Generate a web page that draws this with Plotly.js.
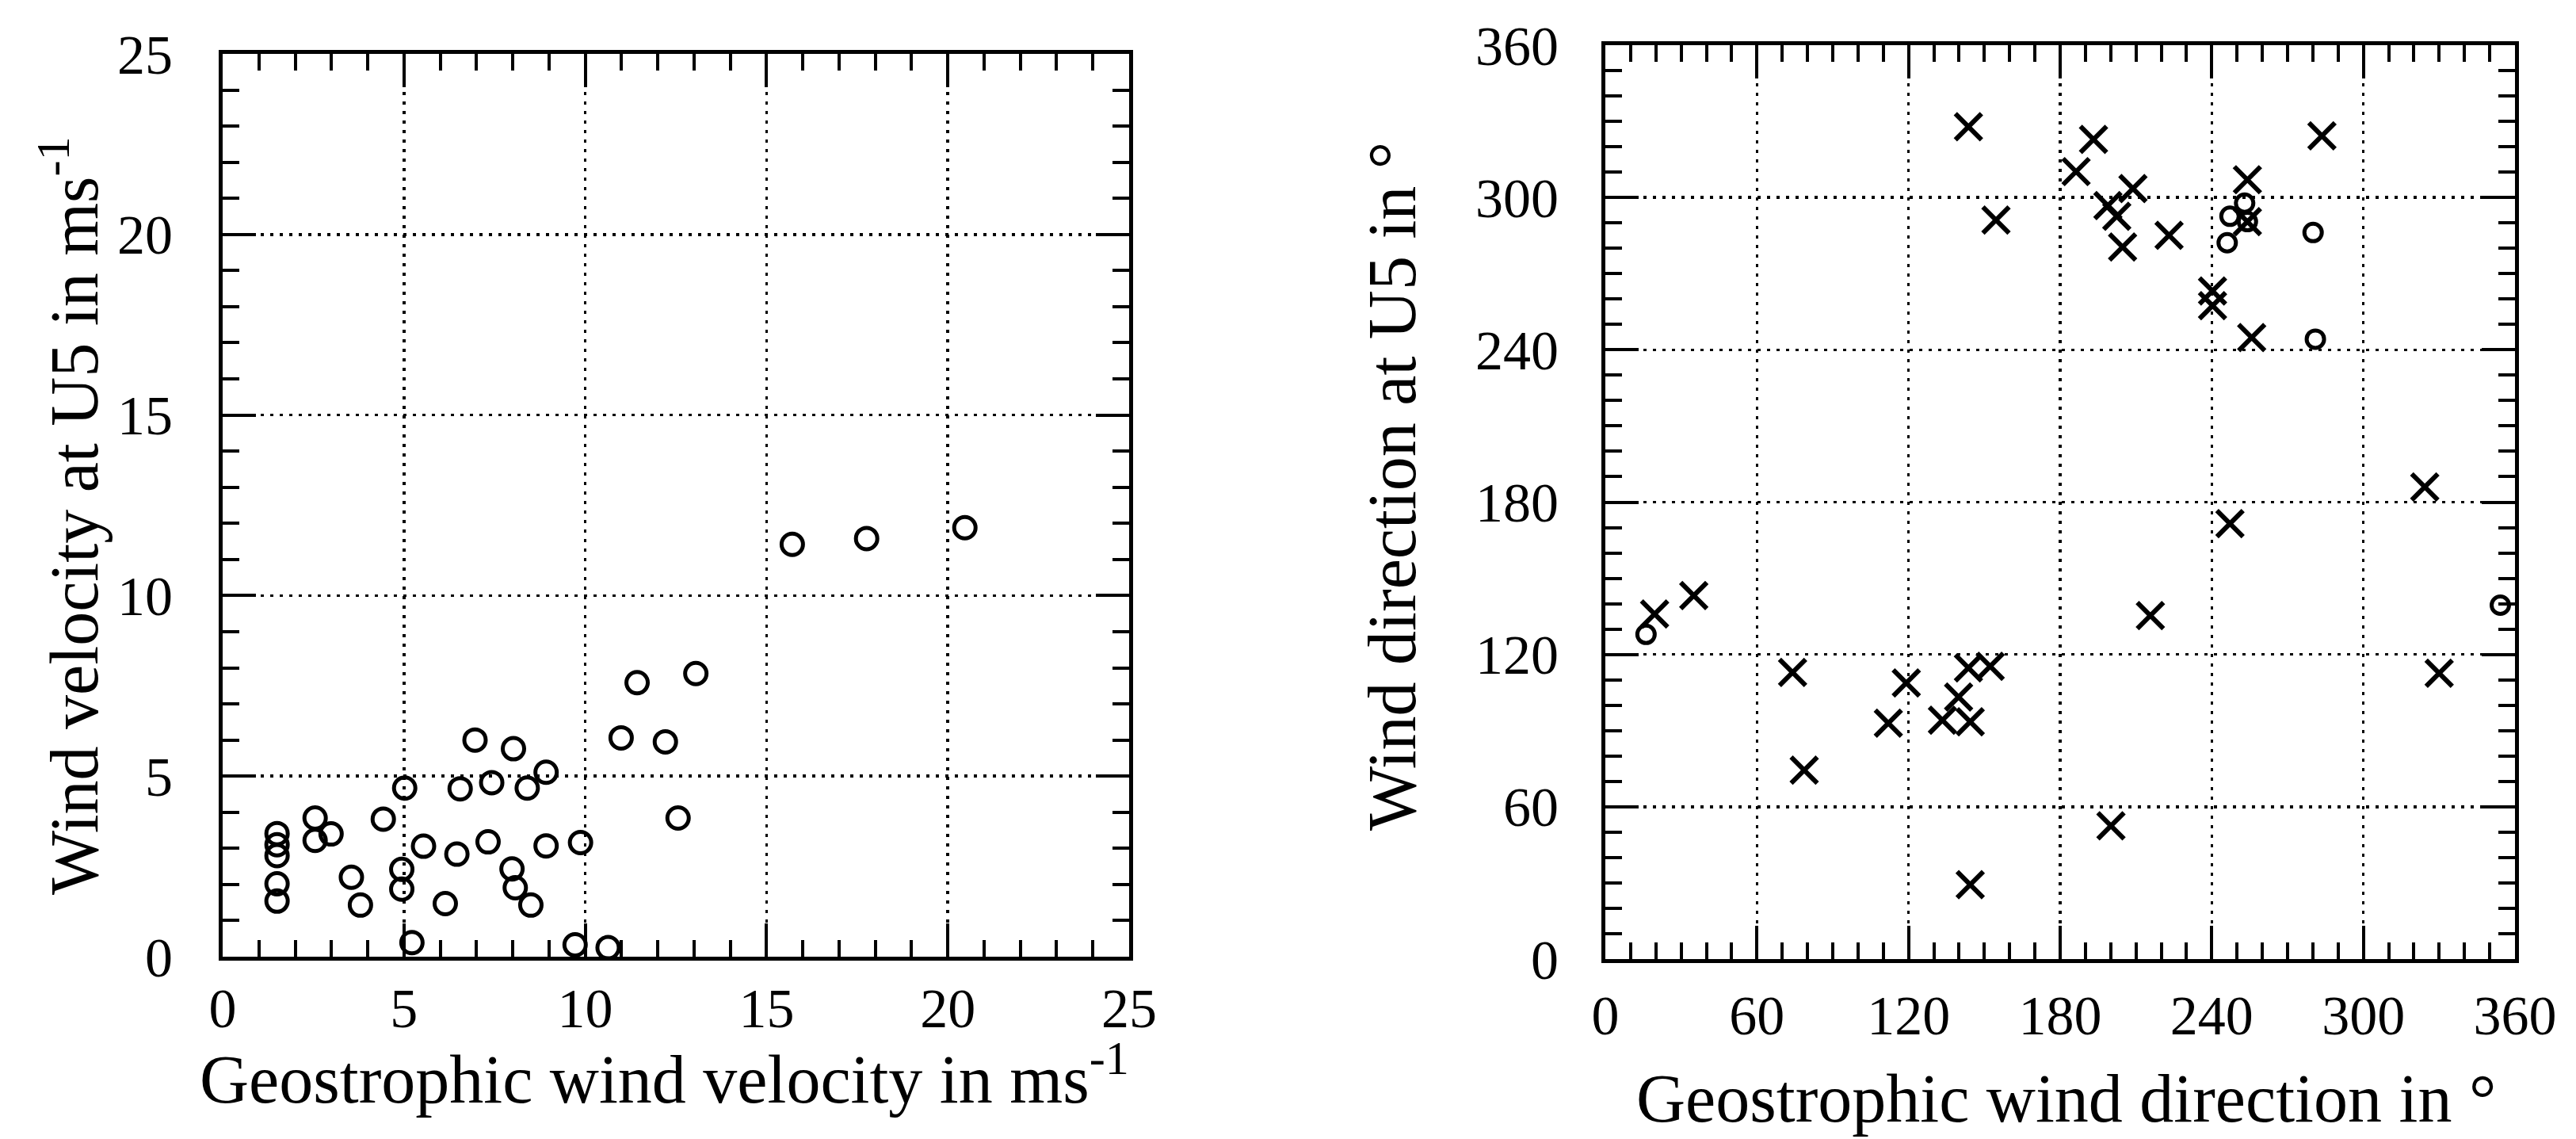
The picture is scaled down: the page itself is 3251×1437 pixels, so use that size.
<!DOCTYPE html>
<html>
<head>
<meta charset="utf-8">
<script src="https://cdn.plot.ly/plotly-3.0.1.min.js"></script>
<style>html,body{margin:0;padding:0;background:#fff;}</style>
</head>
<body>
<div id="chart" style="width:3251px;height:1437px;"></div>
<script>
// Wind speed: geostrophic wind vs. wind measured at U5 (m/s)
const speedGeo = [1.5, 1.5, 1.5, 1.5, 1.5, 2.55, 2.55, 2.99, 3.55, 3.80, 4.43, 5.02, 4.94, 4.94, 5.22,
  5.54, 6.14, 6.46, 6.55, 6.96, 7.32, 7.42, 7.98, 8.02, 8.07, 8.40, 8.50, 8.92, 8.92, 9.87, 9.72,
  10.63, 10.99, 11.43, 12.21, 12.56, 13.05, 15.71, 17.76, 20.47];
const speedU5 = [3.41, 3.10, 2.80, 2.02, 1.54, 3.84, 3.22, 3.40, 2.20, 1.43, 3.81, 4.67, 2.42, 1.87, 0.39,
  3.06, 1.47, 2.84, 4.65, 6.00, 3.18, 4.82, 2.43, 5.76, 1.91, 4.67, 1.43, 5.11, 3.07, 3.16, 0.33,
  0.25, 6.06, 7.59, 5.95, 3.84, 7.84, 11.42, 11.58, 11.88];

// Wind direction (degrees), two groups of cases
const dirGeoCross = [143.7, 193.2, 186.3, 208.8, 198.9, 202.4, 154.6, 223.1, 204.7, 254.1, 254.1, 283.6,
  240.3, 240.3, 255.8, 324.3, 19.5, 35.0, 247.2, 215.7, 74.1, 119.1, 143.7, 152.3, 139.8, 112.0,
  133.4, 144.4, 78.7, 330.0, 200.1, 144.4];
const dirU5Cross = [327.9, 322.9, 310.2, 303.5, 296.8, 292.6, 291.1, 285.1, 280.5, 307.0, 290.5, 324.3,
  263.2, 257.4, 244.8, 186.0, 135.9, 143.2, 171.5, 135.3, 112.9, 108.8, 114.7, 115.3, 103.2, 92.9,
  94.1, 93.5, 74.4, 112.6, 52.5, 29.3];
const dirGeoCircle = [16.1, 253.0, 247.2, 246.1, 254.1, 280.1, 281.0, 354.2];
const dirU5Circle = [127.9, 297.8, 292.6, 282.2, 290.5, 286.2, 244.2, 139.4];

const speedTicks = [0, 5, 10, 15, 20, 25];
const dirTicks = [0, 60, 120, 180, 240, 300, 360];

const W = 3251, H = 1437;
const fx = v => v / W;
const fy = v => 1 - v / H;
const serif = "'Liberation Serif', 'Times New Roman', serif";

function axis(ticks, minorStep, domain, standoff) {
  return {
    domain: domain,
    range: [ticks[0], ticks[ticks.length - 1]],
    autorange: false,
    tickmode: 'array',
    tickvals: ticks,
    ticktext: ticks.map(String),
    ticks: 'inside',
    ticklen: 42,
    tickwidth: 4,
    tickcolor: '#000',
    showline: true,
    linewidth: 5,
    linecolor: '#000',
    mirror: 'ticks',
    showgrid: true,
    gridcolor: '#000',
    gridwidth: 3.5,
    griddash: '4px,8px',
    zeroline: false,
    ticklabelstandoff: standoff,
    tickfont: {family: serif, size: 70, color: '#000'},
    minor: {
      tickmode: 'linear', tick0: 0, dtick: minorStep,
      ticks: 'inside', ticklen: 21, tickwidth: 4, tickcolor: '#000',
      showgrid: false
    },
    fixedrange: true
  };
}

const traces = [
  {
    x: speedGeo, y: speedU5, xaxis: 'x', yaxis: 'y',
    type: 'scatter', mode: 'markers', cliponaxis: false,
    marker: {symbol: 'circle-open', size: 27, color: '#000', line: {width: 5, color: '#000'}}
  },
  {
    x: dirGeoCross, y: dirU5Cross, xaxis: 'x2', yaxis: 'y2',
    type: 'scatter', mode: 'markers', cliponaxis: false,
    marker: {symbol: 'x-thin-open', size: 33, color: '#000', line: {width: 6, color: '#000'}}
  },
  {
    x: dirGeoCircle, y: dirU5Circle, xaxis: 'x2', yaxis: 'y2',
    type: 'scatter', mode: 'markers', cliponaxis: false,
    marker: {symbol: 'circle-open', size: 22, color: '#000', line: {width: 5, color: '#000'}}
  }
];

const titleFont = {family: serif, size: 86, color: '#000'};

const layout = {
  width: W, height: H,
  margin: {l: 0, r: 0, t: 0, b: 0},
  paper_bgcolor: '#fff',
  plot_bgcolor: '#fff',
  showlegend: false,
  font: {family: serif, color: '#000'},
  xaxis: axis(speedTicks, 1, [fx(281), fx(1425)], 0),
  yaxis: Object.assign(axis(speedTicks, 1, [fy(1207), fy(68)], 44), {anchor: 'x'}),
  xaxis2: Object.assign(axis(dirTicks, 10, [fx(2026), fx(3174)], 6), {anchor: 'y2'}),
  yaxis2: Object.assign(axis(dirTicks, 10, [fy(1210), fy(57)], 40), {anchor: 'x2'}),
  annotations: [
    {text: 'Geostrophic wind velocity in ms<sup>-1</sup>', xref: 'paper', yref: 'paper',
     x: fx(838), y: fy(1355), xanchor: 'center', yanchor: 'middle', showarrow: false, font: titleFont},
    {text: 'Wind velocity at U5 in ms<sup>-1</sup>', xref: 'paper', yref: 'paper', textangle: -90,
     x: fx(88), y: fy(651), xanchor: 'center', yanchor: 'middle', showarrow: false, font: titleFont},
    {text: 'Geostrophic wind direction in °', xref: 'paper', yref: 'paper',
     x: fx(2607), y: fy(1386), xanchor: 'center', yanchor: 'middle', showarrow: false, font: titleFont},
    {text: 'Wind direction at U5 in °', xref: 'paper', yref: 'paper', textangle: -90,
     x: fx(1757), y: fy(614), xanchor: 'center', yanchor: 'middle', showarrow: false, font: titleFont}
  ]
};

Plotly.newPlot('chart', traces, layout, {staticPlot: true, displayModeBar: false});
</script>
</body>
</html>
